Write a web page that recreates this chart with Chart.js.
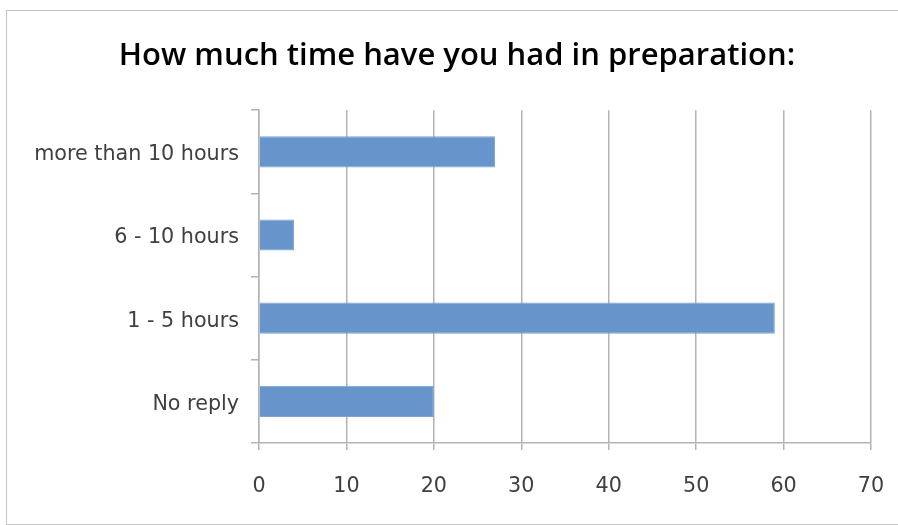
<!DOCTYPE html>
<html>
<head>
<meta charset="utf-8">
<script src="https://cdn.jsdelivr.net/npm/chart.js@4/dist/chart.umd.min.js"></script>
<style>
  html, body { margin: 0; padding: 0; background: #fff; }
  #wrap { position: relative; width: 898px; height: 525px; overflow: hidden; }
  #frame { position: absolute; left: 6px; top: 10px; width: 920px; height: 515px;
           border: 1px solid #c4c4c4; box-sizing: border-box; }
  canvas { position: absolute; left: 0; top: 0; }
</style>
</head>
<body>
<div id="wrap">
  <div id="frame"></div>
  <canvas id="prepChart" width="898" height="525"></canvas>
</div>
<script>
// Survey: time spent in preparation (counts per answer)
var categories = ['more than 10 hours', '6 - 10 hours', '1 - 5 hours', 'No reply'];
var counts = [27, 4, 59, 20];
var xTicks = [0, 10, 20, 30, 40, 50, 60, 70];

var gridGray = '#b3b3b3';
var labelFont = { family: '"DejaVu Sans", sans-serif', size: 20.7 };

new Chart(document.getElementById('prepChart'), {
  type: 'bar',
  data: {
    labels: categories,
    datasets: [{
      data: counts,
      backgroundColor: '#6794cb',
      borderColor: '#7ba3d4',
      borderWidth: 1,
      barPercentage: 0.75,
      categoryPercentage: 0.5
    }]
  },
  options: {
    indexAxis: 'y',
    responsive: false,
    animation: false,
    layout: { padding: { left: 26, right: 10, top: 0, bottom: 0 } },
    plugins: {
      legend: { display: false },
      tooltip: { enabled: false },
      title: {
        display: true,
        text: 'How much time have you had in preparation:',
        color: '#000',
        font: { family: '"Open Sans", sans-serif', size: 31, weight: '600', lineHeight: 1.2 },
        padding: { top: 38, bottom: 35 }
      }
    },
    scales: {
      x: {
        min: 0,
        max: 70,
        afterBuildTicks: function (scale) {
          scale.ticks = xTicks.map(function (v) { return { value: v }; });
        },
        afterFit: function (scale) {
          scale.height = 82;
          // room on the right for the "70" label (tick padding would inflate it)
          scale.paddingRight = 27;
        },
        grid: { color: gridGray, lineWidth: 1.5, tickLength: 7 },
        border: { color: gridGray, width: 1.5 },
        ticks: { color: '#404040', font: labelFont, padding: 24, maxRotation: 0 }
      },
      y: {
        afterFit: function (scale) { scale.width = 233; },
        grid: { drawOnChartArea: false, color: gridGray, lineWidth: 1.5, tickLength: 8, offset: true },
        border: { color: gridGray, width: 1.5 },
        ticks: { color: '#404040', font: labelFont, padding: 12, labelOffset: 3 }
      }
    }
  }
});
</script>
</body>
</html>
